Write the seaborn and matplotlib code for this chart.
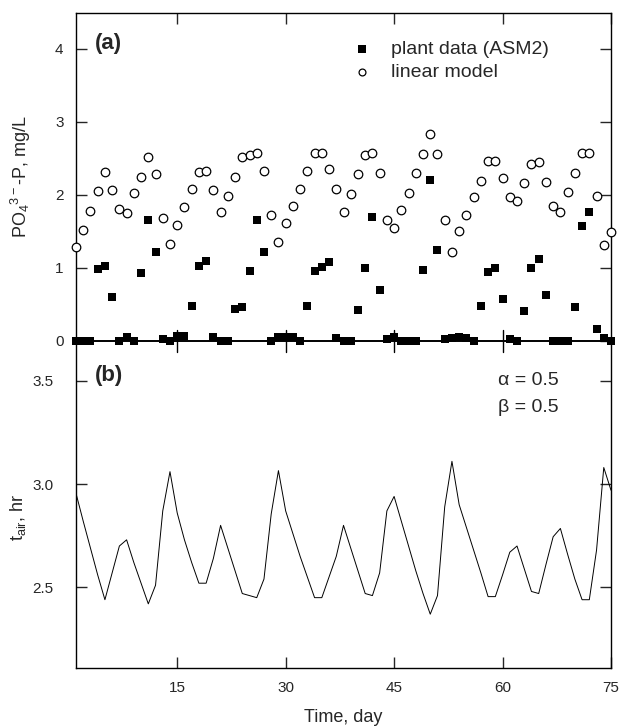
import numpy as np
import matplotlib
matplotlib.use("Agg")
import matplotlib.pyplot as plt
import seaborn as sns

# day index, one sample per day
days = list(range(1, 76))

# (a) PO4-P, mg/L
plant_asm2 = [0.0, 0.0, 0.0, 0.98, 1.02, 0.60, 0.0, 0.05, 0.0, 0.93,
              1.65, 1.21, 0.02, -0.01, 0.06, 0.06, 0.47, 1.03, 1.09, 0.05,
              0.0, 0.0, 0.43, 0.46, 0.95, 1.66, 1.21, 0.0, 0.05, 0.05,
              0.05, -0.01, 0.48, 0.95, 1.01, 1.08, 0.04, 0.0, 0.0, 0.42,
              1.00, 1.70, 0.70, 0.02, 0.05, 0.0, 0.0, 0.0, 0.97, 2.20,
              1.25, 0.02, 0.04, 0.05, 0.04, -0.01, 0.47, 0.94, 1.00, 0.57,
              0.03, -0.01, 0.41, 1.00, 1.12, 0.63, 0.0, 0.0, 0.0, 0.46,
              1.57, 1.76, 0.16, 0.04, -0.01]
linear_model = [1.28, 1.52, 1.78, 2.05, 2.31, 2.06, 1.80, 1.75, 2.02, 2.25,
                2.52, 2.29, 1.68, 1.32, 1.58, 1.84, 2.08, 2.31, 2.33, 2.06,
                1.76, 1.99, 2.25, 2.52, 2.55, 2.57, 2.33, 1.72, 1.35, 1.61,
                1.85, 2.08, 2.32, 2.58, 2.58, 2.35, 2.08, 1.77, 2.01, 2.28,
                2.54, 2.57, 2.30, 1.66, 1.55, 1.79, 2.03, 2.30, 2.56, 2.83,
                2.56, 1.66, 1.21, 1.50, 1.73, 1.97, 2.19, 2.47, 2.47, 2.23,
                1.97, 1.92, 2.16, 2.42, 2.45, 2.18, 1.85, 1.77, 2.04, 2.30,
                2.57, 2.57, 1.99, 1.31, 1.49]

# (b) aeration time, hr
t_air = [2.955, 2.82, 2.69, 2.56, 2.44, 2.57, 2.70, 2.73, 2.62, 2.52,
         2.42, 2.51, 2.87, 3.06, 2.86, 2.73, 2.62, 2.52, 2.52, 2.64,
         2.80, 2.69, 2.58, 2.47, 2.46, 2.45, 2.54, 2.855, 3.065, 2.87,
         2.76, 2.65, 2.55, 2.45, 2.45, 2.55, 2.65, 2.80, 2.69, 2.58,
         2.47, 2.46, 2.57, 2.87, 2.94, 2.82, 2.70, 2.58, 2.47, 2.37,
         2.46, 2.89, 3.11, 2.90, 2.79, 2.68, 2.57, 2.455, 2.455, 2.56,
         2.67, 2.70, 2.59, 2.48, 2.47, 2.61, 2.745, 2.785, 2.66, 2.54,
         2.44, 2.44, 2.68, 3.08, 2.97]

x_ticks = [15, 30, 45, 60, 75]
ya_ticks = [0, 1, 2, 3, 4]
yb_ticks = [2.5, 3.0, 3.5]

sns.set_style("ticks")
plt.rcParams['font.family'] = ['Liberation Sans', 'DejaVu Sans']
plt.rcParams['mathtext.default'] = 'regular'

W, H = 620, 726
fig = plt.figure(figsize=(W / 100, H / 100), dpi=100)

def frac(left, top, right, bottom):
    return [left / W, 1 - bottom / H, (right - left) / W, (bottom - top) / H]

ax_b = fig.add_axes(frac(76, 340.7, 611, 668.3))
ax_a = fig.add_axes(frac(76, 12.5, 611, 340.7))
for ax in (ax_a, ax_b):
    ax.set_facecolor('none')
    ax.set_xlim(1, 75)
    for sp in ax.spines.values():
        sp.set_color('black')
        sp.set_linewidth(1.0)

# panel (a)
sns.scatterplot(x=days, y=plant_asm2, marker='s', color='black', s=40,
                linewidth=0, clip_on=False, zorder=3, ax=ax_a,
                label='plant data (ASM2)')
sns.scatterplot(x=days, y=linear_model, marker='o', facecolor='white',
                edgecolor='black', linewidth=0.9, s=38, clip_on=False,
                zorder=4, ax=ax_a, label='linear model')
ax_a.set_ylim(0, 4.5)
ax_a.set_yticks(ya_ticks)
ax_a.set_xticks(x_ticks)
ax_a.spines['bottom'].set_linewidth(1.4)
ax_a.tick_params(axis='x', which='both', top=True, bottom=False,
                 direction='in', length=8, width=1, labelbottom=False)
ax_a.tick_params(axis='y', which='both', left=True, right=True,
                 direction='in', length=8, width=1, labelsize=11, pad=9)
# ticks crossing the zero line
for xt in x_ticks[:-1]:
    ax_a.plot([xt, xt], [-0.15, 0.15], color='black', lw=1, clip_on=False, zorder=2)
ax_a.set_xlabel('')
ax_a.set_ylabel(r'PO$_4$$^{3-}$-P, mg/L', fontsize=13)
ax_a.yaxis.set_label_coords(-0.08, 0.5)
ax_a.text(0.036, 0.906, '(a)', transform=ax_a.transAxes, fontsize=16,
          fontweight='bold', va='center', ha='left')
ax_a.legend(loc='upper left', bbox_to_anchor=(0.516, 0.915), frameon=False,
            fontsize=14, markerscale=0.8, handlelength=1.0,
            handletextpad=1.0, labelspacing=0.3, borderpad=0, borderaxespad=0)

# panel (b)
sns.lineplot(x=days, y=t_air, color='black', linewidth=0.7, estimator=None, ax=ax_b)
ax_b.set_ylim(2.108, 3.694)
ax_b.set_yticks(yb_ticks)
ax_b.set_yticklabels(['2.5', '3.0', '3.5'])
ax_b.set_xticks(x_ticks)
ax_b.spines['top'].set_visible(False)
ax_b.tick_params(axis='x', which='both', bottom=True, top=False,
                 direction='in', length=8, width=1, labelsize=11, pad=9)
ax_b.tick_params(axis='y', which='both', left=True, right=True,
                 direction='in', length=8, width=1, labelsize=11, pad=16)
ax_b.set_xlabel('Time, day', fontsize=13, labelpad=10)
ax_b.set_ylabel(r't$_{air}$, hr', fontsize=13)
ax_b.yaxis.set_label_coords(-0.09, 0.46)
ax_b.text(0.036, 0.895, '(b)', transform=ax_b.transAxes, fontsize=16,
          fontweight='bold', va='center', ha='left')
ax_b.text(0.789, 0.878, 'α = 0.5', transform=ax_b.transAxes, fontsize=14,
          va='center', ha='left')
ax_b.text(0.789, 0.797, 'β = 0.5', transform=ax_b.transAxes, fontsize=14,
          va='center', ha='left')

fig.savefig('out.png', dpi=100)
